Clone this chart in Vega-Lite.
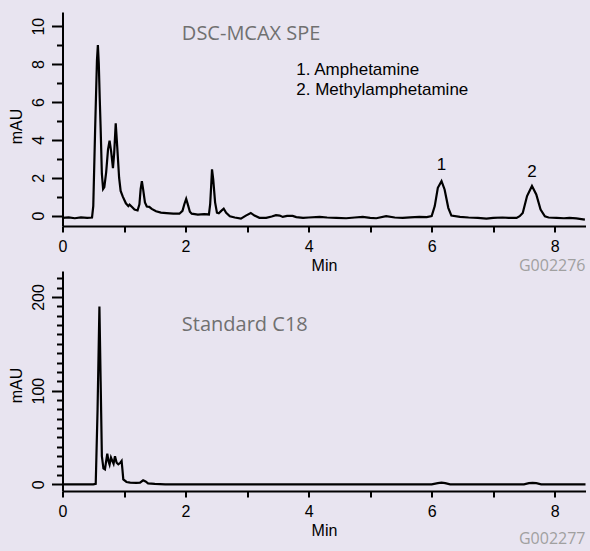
{
  "$schema": "https://vega.github.io/schema/vega-lite/v6.json",
  "background": "#E8E4F0",
  "padding": {"left": 7.5, "top": 12, "right": 4, "bottom": 4},
  "bounds": "flush",
  "spacing": 45,
  "config": {
    "view": {"stroke": null},
    "axis": {
      "domainColor": "black", "domainWidth": 2, "tickColor": "black", "tickWidth": 2,
      "labelFont": "Liberation Sans", "labelFontSize": 16, "labelColor": "black",
      "titleFont": "Liberation Sans", "titleFontSize": 16, "titleFontWeight": "normal", "titleColor": "black",
      "grid": false, "labelFlush": false, "labelOverlap": false, "tickCount": 100, "format": "d"
    }
  },
  "datasets": {
    "spe": [
      {"t":0,"v":-0.12},{"t":0.1,"v":-0.1},{"t":0.2,"v":-0.14},{"t":0.3,"v":-0.1},{"t":0.4,"v":-0.12},{"t":0.48,"v":-0.1},
      {"t":0.5,"v":0.5},{"t":0.53,"v":4.5},{"t":0.56,"v":8.2},{"t":0.575,"v":9.0},{"t":0.59,"v":8.0},{"t":0.605,"v":6.2},{"t":0.62,"v":4.6},
      {"t":0.64,"v":2.2},{"t":0.66,"v":1.4},{"t":0.68,"v":1.5},{"t":0.71,"v":2.3},{"t":0.74,"v":3.5},{"t":0.765,"v":3.95},{"t":0.79,"v":3.4},
      {"t":0.82,"v":2.5},{"t":0.84,"v":3.3},{"t":0.865,"v":4.87},{"t":0.89,"v":3.6},{"t":0.92,"v":2.0},{"t":0.945,"v":1.3},{"t":0.98,"v":1.0},
      {"t":1.03,"v":0.65},{"t":1.07,"v":0.5},{"t":1.09,"v":0.58},{"t":1.13,"v":0.45},{"t":1.17,"v":0.32},{"t":1.22,"v":0.27},{"t":1.25,"v":0.6},
      {"t":1.27,"v":1.4},{"t":1.29,"v":1.82},{"t":1.31,"v":1.4},{"t":1.34,"v":0.7},{"t":1.37,"v":0.48},{"t":1.41,"v":0.46},{"t":1.45,"v":0.35},
      {"t":1.52,"v":0.23},{"t":1.6,"v":0.16},{"t":1.69,"v":0.13},{"t":1.8,"v":0.1},{"t":1.9,"v":0.1},{"t":1.95,"v":0.25},{"t":1.98,"v":0.6},
      {"t":2.01,"v":0.88},{"t":2.04,"v":0.55},{"t":2.07,"v":0.2},{"t":2.1,"v":0.1},{"t":2.2,"v":0.05},{"t":2.3,"v":0.08},{"t":2.38,"v":0.06},
      {"t":2.4,"v":0.6},{"t":2.42,"v":1.8},{"t":2.43,"v":2.44},{"t":2.45,"v":1.9},{"t":2.48,"v":0.7},{"t":2.51,"v":0.15},{"t":2.54,"v":0.12},
      {"t":2.58,"v":0.25},{"t":2.62,"v":0.36},{"t":2.66,"v":0.15},{"t":2.72,"v":-0.04},{"t":2.8,"v":-0.1},{"t":2.9,"v":-0.16},{"t":2.98,"v":0.0},
      {"t":3.06,"v":0.14},{"t":3.12,"v":0.0},{"t":3.2,"v":-0.12},{"t":3.31,"v":-0.12},{"t":3.4,"v":-0.05},{"t":3.47,"v":0.02},{"t":3.53,"v":0.0},
      {"t":3.58,"v":-0.07},{"t":3.65,"v":-0.02},{"t":3.74,"v":-0.02},{"t":3.8,"v":-0.08},{"t":3.91,"v":-0.12},{"t":4.0,"v":-0.1},{"t":4.18,"v":-0.07},
      {"t":4.3,"v":-0.1},{"t":4.45,"v":-0.12},{"t":4.61,"v":-0.14},{"t":4.75,"v":-0.1},{"t":4.88,"v":-0.07},{"t":5.0,"v":-0.12},{"t":5.1,"v":-0.14},
      {"t":5.26,"v":-0.03},{"t":5.4,"v":-0.1},{"t":5.53,"v":-0.12},{"t":5.65,"v":-0.09},{"t":5.8,"v":-0.07},{"t":5.92,"v":-0.08},{"t":6.0,"v":-0.03},
      {"t":6.05,"v":0.5},{"t":6.1,"v":1.47},{"t":6.16,"v":1.82},{"t":6.21,"v":1.38},{"t":6.27,"v":0.41},{"t":6.32,"v":0.0},{"t":6.46,"v":-0.07},
      {"t":6.6,"v":-0.1},{"t":6.75,"v":-0.12},{"t":6.89,"v":-0.16},{"t":7.0,"v":-0.12},{"t":7.15,"v":-0.1},{"t":7.25,"v":-0.12},{"t":7.38,"v":-0.12},
      {"t":7.43,"v":-0.03},{"t":7.48,"v":0.14},{"t":7.55,"v":1.03},{"t":7.63,"v":1.56},{"t":7.7,"v":1.12},{"t":7.77,"v":0.32},{"t":7.84,"v":-0.04},
      {"t":7.9,"v":-0.1},{"t":8.03,"v":-0.12},{"t":8.15,"v":-0.14},{"t":8.24,"v":-0.12},{"t":8.35,"v":-0.15},{"t":8.49,"v":-0.21}
    ],
    "c18": [
      {"t":0,"v":0},{"t":0.5,"v":0},{"t":0.54,"v":0.5},{"t":0.57,"v":80},{"t":0.6,"v":190},{"t":0.62,"v":110},{"t":0.64,"v":30},
      {"t":0.665,"v":17},{"t":0.69,"v":16},{"t":0.71,"v":25},{"t":0.728,"v":32.7},{"t":0.75,"v":24},{"t":0.765,"v":21},{"t":0.788,"v":28.5},
      {"t":0.81,"v":25},{"t":0.83,"v":22},{"t":0.853,"v":30},{"t":0.88,"v":23},{"t":0.907,"v":21.3},{"t":0.94,"v":23},{"t":0.961,"v":24.9},
      {"t":0.975,"v":15},{"t":0.988,"v":5.3},{"t":1.04,"v":2.5},{"t":1.1,"v":1.8},{"t":1.2,"v":1.5},{"t":1.26,"v":1.8},{"t":1.31,"v":4.3},
      {"t":1.35,"v":3},{"t":1.39,"v":1},{"t":1.5,"v":0.5},{"t":1.67,"v":0},{"t":2,"v":0},{"t":4,"v":0},{"t":6.0,"v":0},{"t":6.1,"v":1.2},
      {"t":6.16,"v":1.8},{"t":6.22,"v":1.2},{"t":6.3,"v":0},{"t":7.5,"v":0},{"t":7.58,"v":1.2},{"t":7.64,"v":1.6},{"t":7.7,"v":1.2},
      {"t":7.78,"v":0},{"t":8.5,"v":0}
    ]
  },
  "vconcat": [
    {
      "width": 523, "height": 214,
      "encoding": {
        "x": {"field": "t", "type": "quantitative", "scale": {"domain": [0, 8.5], "nice": false, "zero": false},
          "axis": {"title": "Min", "values": [0,1,2,3,4,5,6,7,8], "labelExpr": "datum.value % 2 === 0 ? datum.label : ''",
            "tickSize": 6, "labelPadding": 6, "titlePadding": 3, "tickCount": 100, "format": "d"}},
        "y": {"field": "v", "type": "quantitative", "scale": {"domain": [-0.55, 10.75], "nice": false, "zero": false},
          "axis": {"title": "mAU", "values": [0,1,2,3,4,5,6,7,8,9,10], "labelExpr": "datum.value % 2 === 0 ? datum.label : ''",
            "tickCount": 100, "format": "d",
            "tickSize": {"condition": {"test": "datum.value % 2 === 0", "value": 11}, "value": 6},
            "labelAngle": 270, "labelAlign": "center", "labelBaseline": "alphabetic", "labelPadding": 8, "titlePadding": 6, "titleY": 114}}
      },
      "layer": [
        {"data": {"name": "spe"}, "mark": {"type": "line", "color": "black", "strokeWidth": 2.2}},
        {"data": {"values": [{"t": 1.94, "v": 9.29, "text": "DSC-MCAX SPE"}]},
          "mark": {"type": "text", "align": "left", "baseline": "alphabetic", "font": "Open Sans", "fontSize": 20, "color": "#707070"},
          "encoding": {"text": {"field": "text"}}},
        {"data": {"values": [{"t": 3.8, "v": 7.44, "text": "1. Amphetamine"}, {"t": 3.8, "v": 6.38, "text": "2. Methylamphetamine"}]},
          "mark": {"type": "text", "align": "left", "baseline": "alphabetic", "font": "Liberation Sans", "fontSize": 17, "color": "black"},
          "encoding": {"text": {"field": "text"}}},
        {"data": {"values": [{"t": 6.16, "v": 2.39, "text": "1"}, {"t": 7.63, "v": 2.04, "text": "2"}]},
          "mark": {"type": "text", "align": "center", "baseline": "alphabetic", "font": "Liberation Sans", "fontSize": 17, "color": "black"},
          "encoding": {"text": {"field": "text"}}},
        {"data": {"values": [{"t": 8.5, "v": -2.95, "text": "G002276"}]},
          "mark": {"type": "text", "align": "right", "baseline": "alphabetic", "font": "Open Sans", "fontSize": 16, "color": "#A0A0A0"},
          "encoding": {"text": {"field": "text"}}}
      ]
    },
    {
      "width": 523, "height": 220,
      "encoding": {
        "x": {"field": "t", "type": "quantitative", "scale": {"domain": [0, 8.5], "nice": false, "zero": false},
          "axis": {"title": "Min", "values": [0,1,2,3,4,5,6,7,8], "labelExpr": "datum.value % 2 === 0 ? datum.label : ''",
            "tickSize": 6, "labelPadding": 6, "titlePadding": 3, "tickCount": 100, "format": "d"}},
        "y": {"field": "v", "type": "quantitative", "scale": {"domain": [-7.15, 227.8], "nice": false, "zero": false},
          "axis": {"title": "mAU", "values": [0,10,20,30,40,50,60,70,80,90,100,110,120,130,140,150,160,170,180,190,200,210,220],
            "labelExpr": "datum.value % 100 === 0 ? datum.label : ''", "tickCount": 100, "format": "d",
            "tickSize": {"condition": {"test": "datum.value % 100 === 0", "value": 11}, "value": 6},
            "labelAngle": 270, "labelAlign": "center", "labelBaseline": "alphabetic", "labelPadding": 8, "titlePadding": 6, "titleY": 114}}
      },
      "layer": [
        {"data": {"name": "c18"}, "mark": {"type": "line", "color": "black", "strokeWidth": 2.2}},
        {"data": {"values": [{"t": 1.94, "v": 163.7, "text": "Standard C18"}]},
          "mark": {"type": "text", "align": "left", "baseline": "alphabetic", "font": "Open Sans", "fontSize": 20, "color": "#707070"},
          "encoding": {"text": {"field": "text"}}},
        {"data": {"values": [{"t": 8.5, "v": -63.5, "text": "G002277"}]},
          "mark": {"type": "text", "align": "right", "baseline": "alphabetic", "font": "Open Sans", "fontSize": 16, "color": "#A0A0A0"},
          "encoding": {"text": {"field": "text"}}}
      ]
    }
  ]
}
